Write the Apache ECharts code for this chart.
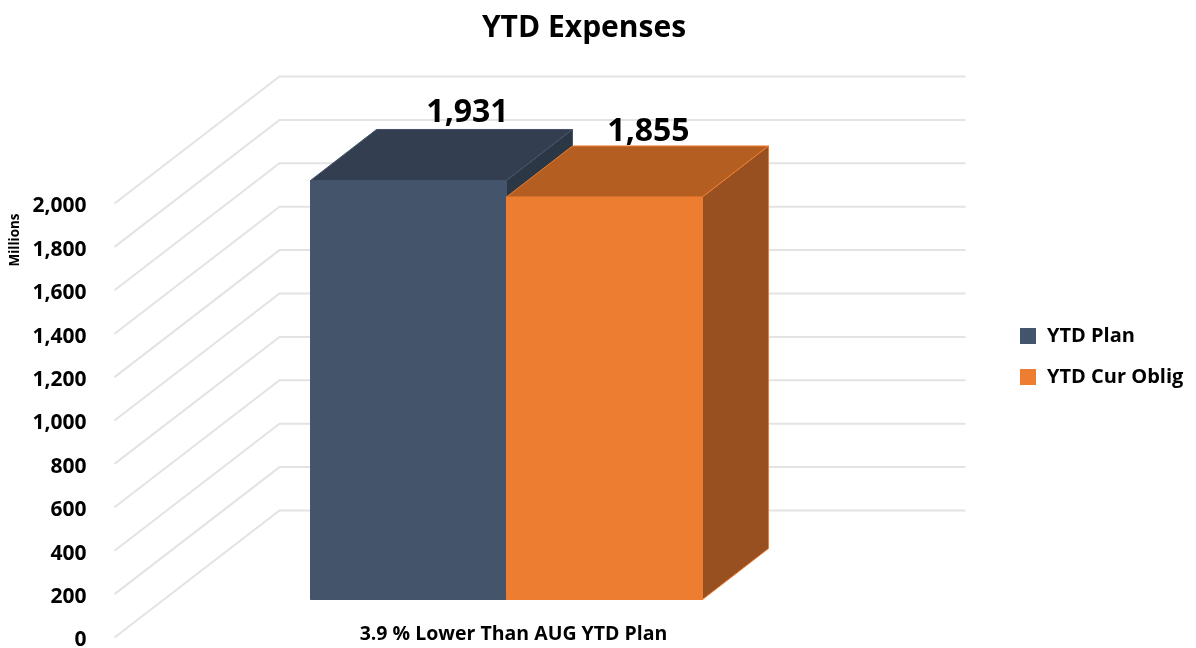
<!DOCTYPE html>
<html>
<head>
<meta charset="utf-8">
<title>YTD Expenses</title>
<script src="https://cdn.jsdelivr.net/npm/echarts@6/dist/echarts.min.js"></script>
<style>
    html, body { margin: 0; padding: 0; background: #fff; }
    #main { width: 1196px; height: 648px; }
</style>
</head>
<body>
<div id="main"></div>
<script>
var categories = ['3.9 % Lower Than AUG YTD Plan'];
var ytdPlan = [1931];
var ytdCurOblig = [1855];
var yTicks = [0, 200, 400, 600, 800, 1000, 1200, 1400, 1600, 1800, 2000];

var fontName = '"Open Sans", sans-serif';
// depth of the whole box, and of one bar
var wallDx = 165, wallDy = -127, wallWidth = 686;
var barDx = 66, barDy = -51, barWidth = 196;
// tick labels sit a little below their gridline ends
var labelDrop = 3;

function wallLine(params, api) {
    var y = api.coord([0, api.value(1)])[1] - labelDrop,
        x = params.coordSys.x;
    return {
        type: 'polyline',
        silent: true,
        shape: {
            points: [[x, y], [x + wallDx, y + wallDy], [x + wallDx + wallWidth, y + wallDy]]
        },
        style: { fill: null, stroke: '#e3e3e3', lineWidth: 2 }
    };
}

// one 3d bar: front, top and side faces from the value on the bar plane
function bar3d(slot, colors, labelDx, labelDy) {
    return function(params, api) {
        var value = api.value(1),
            base = api.coord([api.value(0), 0]),
            top = api.coord([api.value(0), value]),
            left = base[0] + (slot - 1) * barWidth,
            right = left + barWidth;
        function face(points, fill, stroke) {
            return {
                type: 'polygon',
                shape: { points: points },
                style: { fill: fill, stroke: stroke, lineWidth: 1 }
            };
        }
        return {
            type: 'group',
            children: [
                face([[left, top[1]], [right, top[1]], [right, base[1]], [left, base[1]]], colors[0], colors[0]),
                face([[left, top[1]], [right, top[1]], [right + barDx, top[1] + barDy], [left + barDx, top[1] + barDy]], colors[1], colors[3]),
                face([[right, top[1]], [right + barDx, top[1] + barDy], [right + barDx, base[1] + barDy], [right, base[1]]], colors[2], colors[3]),
                {
                    type: 'text',
                    style: {
                        x: (left + right) / 2 + labelDx,
                        y: top[1] + labelDy,
                        text: value.toLocaleString('en-US'),
                        fill: '#000',
                        font: 'bold 32px ' + fontName,
                        align: 'center',
                        verticalAlign: 'middle'
                    }
                }
            ]
        };
    };
}

window.onload = function() {
    var chartBox = document.getElementById('main'),
        myChart = echarts.init(chartBox),
        option;

    option = {
        animation: false,
        textStyle: { fontFamily: fontName },
        title: {
            text: 'YTD Expenses',
            left: 579,
            top: 8,
            textAlign: 'center',
            textStyle: { fontSize: 30, fontWeight: 'bold', color: '#000', fontFamily: fontName }
        },
        legend: {
            orient: 'vertical',
            left: 1015,
            top: 321,
            itemWidth: 16,
            itemHeight: 16,
            itemGap: 21,
            icon: 'rect',
            textStyle: { fontSize: 20, lineHeight: 20, padding: [0, 0, 0, 6], fontWeight: 'bold', color: '#000', fontFamily: fontName },
            data: ['YTD Plan', 'YTD Cur Oblig']
        },
        graphic: [{
            type: 'text',
            x: 15,
            y: 240,
            rotation: Math.PI / 2,
            style: {
                text: 'Millions',
                font: 'bold 13.5px ' + fontName,
                fill: '#000',
                align: 'center',
                verticalAlign: 'middle'
            }
        }],
        grid: [
            { left: 114.5, top: 203.5 + labelDrop, width: wallWidth, height: 434, outerBoundsMode: 'none' },
            { left: 163.5, top: 165.5, width: wallWidth, height: 434, outerBoundsMode: 'none' }
        ],
        xAxis: [{
            type: 'category',
            gridIndex: 0,
            data: categories,
            show: false
        }, {
            type: 'category',
            gridIndex: 1,
            data: categories,
            axisLine: { show: false },
            axisTick: { show: false },
            axisLabel: {
                margin: 25,
                padding: [0, 0, 0, 14],
                fontSize: 19.5,
                fontWeight: 'bold',
                color: '#000',
                fontFamily: fontName
            }
        }],
        yAxis: [{
            type: 'value',
            gridIndex: 0,
            min: 0,
            max: 2000,
            interval: 200,
            axisLine: { show: false },
            axisTick: { show: false },
            splitLine: { show: false },
            axisLabel: {
                margin: 28,
                fontSize: 21,
                fontWeight: 'bold',
                color: '#000',
                fontFamily: fontName,
                formatter: function(v) { return v.toLocaleString('en-US'); }
            }
        }, {
            type: 'value',
            gridIndex: 1,
            min: 0,
            max: 2000,
            interval: 200,
            show: false
        }],
        series: [{
            type: 'custom',
            name: 'wall',
            xAxisIndex: 0,
            yAxisIndex: 0,
            silent: true,
            renderItem: wallLine,
            data: yTicks.map(function(t) { return [0, t]; }),
            z: 1
        }, {
            type: 'custom',
            name: 'YTD Plan',
            xAxisIndex: 1,
            yAxisIndex: 1,
            itemStyle: { color: '#44546a' },
            renderItem: bar3d(0, ['#44546a', '#333f50', '#2c3746', '#44546a'], 59, -68),
            data: ytdPlan.map(function(v, i) { return [i, v]; }),
            z: 2
        }, {
            type: 'custom',
            name: 'YTD Cur Oblig',
            xAxisIndex: 1,
            yAxisIndex: 1,
            itemStyle: { color: '#ed7d31' },
            renderItem: bar3d(1, ['#ed7d31', '#b55e22', '#985020', '#ed7d31'], 44, -65),
            data: ytdCurOblig.map(function(v, i) { return [i, v]; }),
            z: 3
        }]
    };

    myChart.setOption(option);
};
</script>
</body>
</html>
